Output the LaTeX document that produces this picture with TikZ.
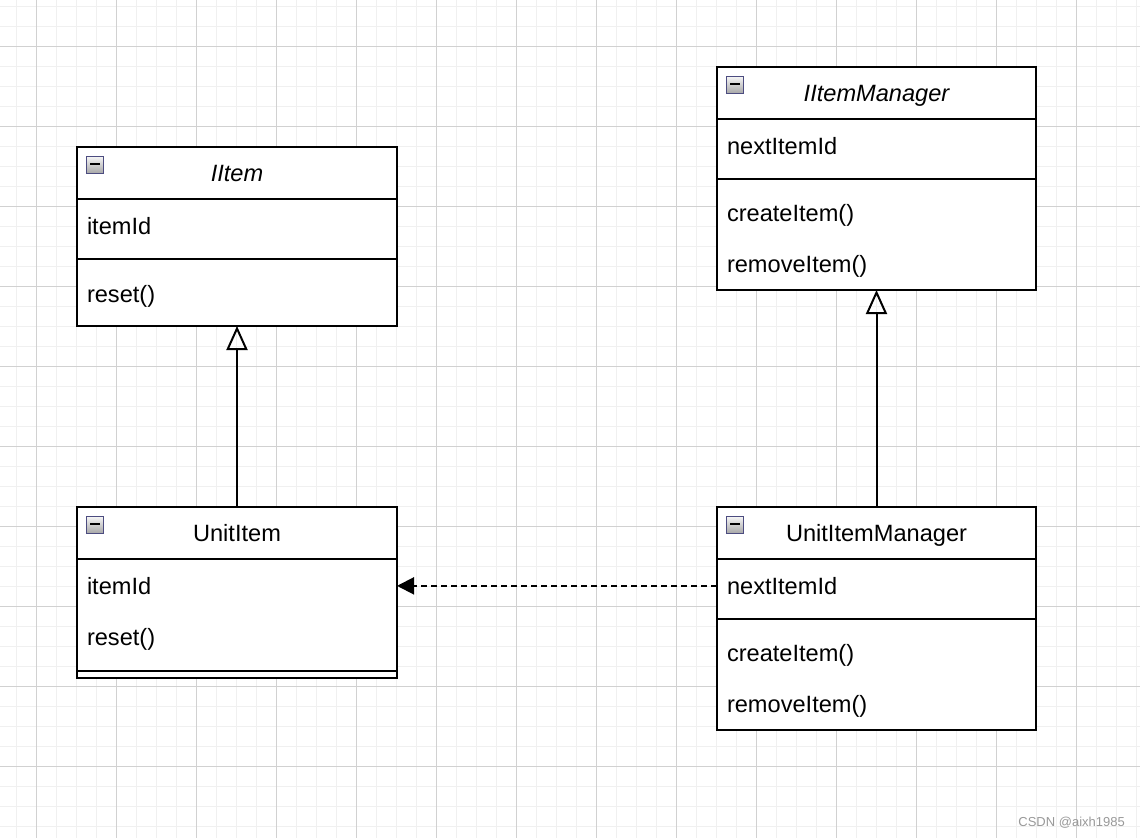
\documentclass[tikz,border=0pt]{standalone}
\usepackage{fontspec}
\setmainfont{Liberation Sans}
\usetikzlibrary{arrows.meta}
\begin{document}
\begin{tikzpicture}[x=1pt,y=-1pt,
  minorgrid/.style={draw=black!6, line width=1pt},
  majorgrid/.style={draw=black!18, line width=1pt},
  umlbox/.style={draw=black, line width=2pt, fill=white, inner sep=0pt, outer sep=0pt, anchor=north west},
  sepline/.style={draw=black, line width=2pt},
  txt/.style={inner sep=0pt, outer sep=0pt, anchor=base west, font=\fontsize{23.6}{28}\selectfont},
  title/.style={inner sep=0pt, outer sep=0pt, anchor=base, font=\fontsize{23.6}{28}\selectfont},
  minusicon/.style={draw=black!50!blue!40!gray, line width=1pt, minimum size=17pt, inner sep=0pt, top color=black!4, bottom color=black!35},
  minusbar/.style={fill=black, draw=none, minimum width=10pt, minimum height=2.6pt, inner sep=0pt},
  generalization/.style={draw=black, line width=2pt, -{Triangle[open, length=24pt, width=21pt]}},
  dependency/.style={draw=black, line width=2pt, dash pattern=on 6pt off 4pt, -{Triangle[length=17pt, width=17pt]}},
  watermark/.style={inner sep=0pt, anchor=east, text=black!40, font=\fontsize{13}{15}\selectfont}
]
\useasboundingbox (0,0) rectangle (1140,838);
\fill[white] (0,0) rectangle (1140,838);
% grid
\foreach \x in {16,36,...,1136} \draw[minorgrid] (\x,0) -- (\x,838);
\foreach \y in {6,26,...,826} \draw[minorgrid] (0,\y) -- (1140,\y);
\foreach \x in {36,116,...,1116} \draw[majorgrid] (\x,0) -- (\x,838);
\foreach \y in {46,126,...,766} \draw[majorgrid] (0,\y) -- (1140,\y);

% IItem
\node[umlbox, minimum width=320pt, minimum height=179pt] (iitem) at (77,147) {};
\draw[sepline] (77,199) -- (397,199);
\draw[sepline] (77,259) -- (397,259);
\node[minusicon] (iitemicon) at (95,165) {};
\node[minusbar] (iitembar) at (95,164) {};
\node[title, font=\fontsize{23.6}{28}\selectfont\itshape] (iitemtitle) at (237,181.7) {IItem};
\node[txt] (iitemattr) at (87,234.3) {itemId};
\node[txt] (iitemop) at (87,302.3) {reset()};

% IItemManager
\node[umlbox, minimum width=319pt, minimum height=223pt] (iim) at (717,67) {};
\draw[sepline] (717,119) -- (1036,119);
\draw[sepline] (717,179) -- (1036,179);
\node[minusicon] (iimicon) at (735,85) {};
\node[minusbar] (iimbar) at (735,84) {};
\node[title, font=\fontsize{23.6}{28}\selectfont\itshape] (iimtitle) at (876.5,101.7) {IItemManager};
\node[txt] (iimattr) at (727,154.3) {nextItemId};
\node[txt] (iimop1) at (727,221.7) {createItem()};
\node[txt] (iimop2) at (727,272.7) {removeItem()};

% UnitItem
\node[umlbox, minimum width=320pt, minimum height=171pt] (ui) at (77,507) {};
\draw[sepline] (77,559) -- (397,559);
\draw[sepline] (77,671) -- (397,671);
\node[minusicon] (uiicon) at (95,525) {};
\node[minusbar] (uibar) at (95,524) {};
\node[title] (uititle) at (237,541.7) {UnitItem};
\node[txt] (uiattr) at (87,594.3) {itemId};
\node[txt] (uiop) at (87,645.7) {reset()};

% UnitItemManager
\node[umlbox, minimum width=319pt, minimum height=223pt] (uim) at (717,507) {};
\draw[sepline] (717,559) -- (1036,559);
\draw[sepline] (717,619) -- (1036,619);
\node[minusicon] (uimicon) at (735,525) {};
\node[minusbar] (uimbar) at (735,524) {};
\node[title] (uimtitle) at (876.5,541.7) {UnitItemManager};
\node[txt] (uimattr) at (727,594.3) {nextItemId};
\node[txt] (uimop1) at (727,661.7) {createItem()};
\node[txt] (uimop2) at (727,712.7) {removeItem()};

% connectors
\draw[generalization] (ui.north) -- (iitem.south);
\draw[generalization] (uim.north) -- (iim.south);
\draw[dependency] (uim.west |- uimattr.west) -- (ui.east |- uimattr.west);

% watermark
\node[watermark] (wm) at (1125,823) {CSDN @aixh1985};
\end{tikzpicture}
\end{document}
